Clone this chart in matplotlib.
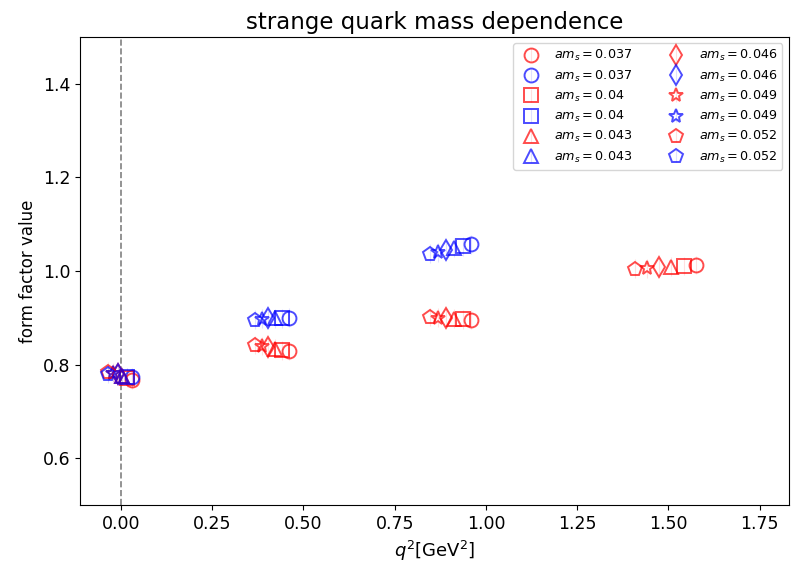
import numpy as np
import matplotlib
matplotlib.use("Agg")
import matplotlib.pyplot as plt

# strange quark masses and their markers
masses = [0.037, 0.04, 0.043, 0.046, 0.049, 0.052]
markers = ['o', 's', '^', 'd', '*', 'p']

# q^2 values (GeV^2) per mass, red set has 4 momenta, blue set has 3
q2_red = {
    0.037: [0.030, 0.460, 0.959, 1.575],
    0.04:  [0.017, 0.441, 0.937, 1.542],
    0.043: [0.004, 0.423, 0.914, 1.508],
    0.046: [-0.009, 0.404, 0.891, 1.475],
    0.049: [-0.022, 0.386, 0.869, 1.441],
    0.052: [-0.035, 0.367, 0.846, 1.408],
}
ff_red = {
    0.037: [0.768, 0.829, 0.896, 1.013],
    0.04:  [0.772, 0.831, 0.897, 1.011],
    0.043: [0.776, 0.834, 0.898, 1.009],
    0.046: [0.780, 0.838, 0.900, 1.008],
    0.049: [0.783, 0.840, 0.900, 1.006],
    0.052: [0.785, 0.842, 0.902, 1.005],
}
q2_blue = {
    0.037: [0.030, 0.460, 0.959],
    0.04:  [0.017, 0.441, 0.937],
    0.043: [0.004, 0.423, 0.914],
    0.046: [-0.009, 0.404, 0.891],
    0.049: [-0.022, 0.386, 0.869],
    0.052: [-0.035, 0.367, 0.846],
}
ff_blue = {
    0.037: [0.773, 0.900, 1.057],
    0.04:  [0.774, 0.899, 1.053],
    0.043: [0.776, 0.899, 1.050],
    0.046: [0.780, 0.899, 1.045],
    0.049: [0.782, 0.898, 1.040],
    0.052: [0.780, 0.896, 1.037],
}
err_red = [0.02, 0.02, 0.02, 0.02]
err_blue = [0.02, 0.02, 0.02]

fig, ax = plt.subplots(figsize=(7.92, 5.67), dpi=100)

for m, mk in zip(masses, markers):
    ax.errorbar(q2_red[m], ff_red[m], yerr=err_red, fmt=mk, mfc='none',
                mec=(1, 0, 0, 0.7), ms=10, mew=1.4, elinewidth=0.8,
                ecolor=(1, 0, 0, 0.12), label=r'$am_s = %s$' % m)
    ax.errorbar(q2_blue[m], ff_blue[m], yerr=err_blue, fmt=mk, mfc='none',
                mec=(0, 0, 1, 0.7), ms=10, mew=1.4, elinewidth=0.8,
                ecolor=(0, 0, 1, 0.12), label=r'$am_s = %s$' % m)

ax.axvline(0, color='gray', ls='--', lw=1.2)
ax.set_xlim(-0.112, 1.83)
ax.set_ylim(0.5, 1.5)
ax.set_xticks(np.arange(0, 1.76, 0.25))
ax.set_yticks([0.6, 0.8, 1.0, 1.2, 1.4])
ax.tick_params(labelsize=12.5)
ax.set_xlabel(r'$q^2$[GeV$^2$]', fontsize=13)
ax.set_ylabel('form factor value', fontsize=12)
ax.set_title('strange quark mass dependence', fontsize=16.5)
ax.legend(ncol=2, fontsize=9.2, loc='upper right', labelspacing=0.4,
          columnspacing=2.4)

plt.subplots_adjust(left=0.101, right=0.996, top=0.935, bottom=0.109)
plt.savefig('out.png')
